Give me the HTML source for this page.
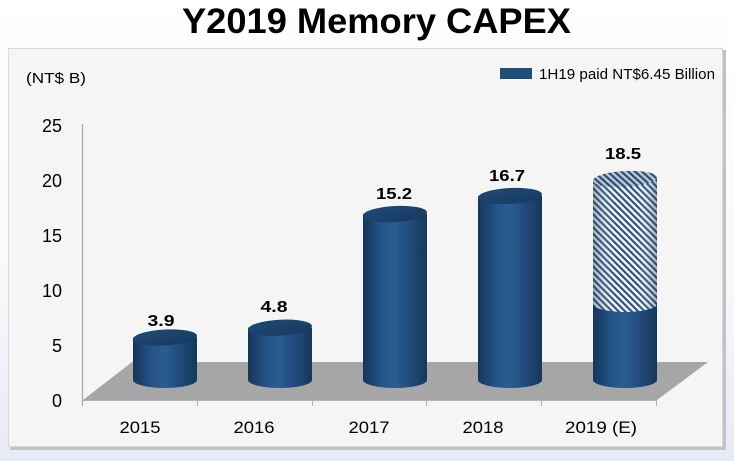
<!DOCTYPE html>
<html><head><meta charset="utf-8"><style>
html,body{margin:0;padding:0;width:734px;height:461px;overflow:hidden;}
svg{display:block;}
text{font-family:"Liberation Sans",Arial,sans-serif;}
</style></head><body>
<svg width="734" height="461" viewBox="0 0 734 461" xmlns="http://www.w3.org/2000/svg">
<defs>
<linearGradient id="bg" x1="0" y1="0" x2="0" y2="1">
<stop offset="0" stop-color="#ffffff"/><stop offset="0.6" stop-color="#f8f9fc"/><stop offset="1" stop-color="#e7eaf5"/>
</linearGradient>
<linearGradient id="body" x1="0" y1="0" x2="1" y2="0">
<stop offset="0" stop-color="#15365a"/><stop offset="0.3" stop-color="#25548a"/><stop offset="0.5" stop-color="#2a5c92"/><stop offset="0.75" stop-color="#21497a"/><stop offset="1" stop-color="#163759"/>
</linearGradient>
<linearGradient id="top" x1="0" y1="0" x2="1" y2="1">
<stop offset="0" stop-color="#1f4a76"/><stop offset="1" stop-color="#163a60"/>
</linearGradient>
<linearGradient id="shade" x1="0" y1="0" x2="1" y2="0">
<stop offset="0" stop-color="#0c2440" stop-opacity="0.35"/><stop offset="0.35" stop-color="#ffffff" stop-opacity="0"/><stop offset="0.7" stop-color="#ffffff" stop-opacity="0"/><stop offset="1" stop-color="#0c2440" stop-opacity="0.35"/>
</linearGradient>
<pattern id="hatch" width="4.6" height="4.6" patternUnits="userSpaceOnUse" patternTransform="rotate(-45)">
<rect width="4.6" height="4.6" fill="#eef3f8"/><rect width="2.1" height="4.6" fill="#2b4e77"/>
</pattern>
</defs>
<rect x="0" y="0" width="734" height="461" fill="url(#bg)"/>
<!-- panel -->
<rect x="10" y="50" width="716" height="400" fill="#c2c2c2"/>
<rect x="8.5" y="48.5" width="714" height="398" fill="#f5f5f5" stroke="#d8d8d8" stroke-width="1"/>
<!-- title -->
<text x="182" y="33" font-size="35" font-weight="bold" fill="#000" textLength="389" lengthAdjust="spacingAndGlyphs">Y2019 Memory CAPEX</text>
<!-- unit -->
<text x="26" y="83" font-size="15" fill="#000" textLength="60" lengthAdjust="spacingAndGlyphs">(NT$ B)</text>
<!-- legend -->
<rect x="500" y="68" width="32" height="11" fill="#1f4e79"/>
<text x="539" y="79" font-size="15" fill="#000" textLength="176" lengthAdjust="spacingAndGlyphs">1H19 paid NT$6.45 Billion</text>
<!-- y labels -->
<g font-size="18" fill="#000" text-anchor="end">
<text x="62" y="132">25</text>
<text x="62" y="187">20</text>
<text x="62" y="242">15</text>
<text x="62" y="297">10</text>
<text x="62" y="352">5</text>
<text x="62" y="407">0</text>
</g>
<!-- floor -->
<polygon points="83,400 657,400 708,362 132,362" fill="#a6a6a6"/>
<line x1="82.5" y1="124" x2="82.5" y2="406" stroke="#a8a8a8" stroke-width="1.2"/>
<line x1="83" y1="400.5" x2="657" y2="400.5" stroke="#b5b5b5" stroke-width="1"/>
<g stroke="#b0b0b0" stroke-width="1">
<line x1="197.5" y1="400" x2="197.5" y2="406"/>
<line x1="312.5" y1="400" x2="312.5" y2="406"/>
<line x1="426.5" y1="400" x2="426.5" y2="406"/>
<line x1="541.5" y1="400" x2="541.5" y2="406"/>
<line x1="656.5" y1="400" x2="656.5" y2="406"/>
</g>
<!-- bars -->
<g>
<path d="M133,337.5 L133,380 A32,8 0 0 0 197,380 L197,337.5 Z" fill="url(#body)"/>
<ellipse cx="165" cy="337.5" rx="32" ry="8" fill="url(#top)" transform="rotate(-3 165 337.5)"/>
<path d="M248,327.7 L248,380 A32,8 0 0 0 312,380 L312,327.7 Z" fill="url(#body)"/>
<ellipse cx="280" cy="327.7" rx="32" ry="8" fill="url(#top)" transform="rotate(-3 280 327.7)"/>
<path d="M363,214 L363,380 A32,8 0 0 0 427,380 L427,214 Z" fill="url(#body)"/>
<ellipse cx="395" cy="214" rx="32" ry="8" fill="url(#top)" transform="rotate(-3 395 214)"/>
<path d="M478,196 L478,380 A32,8 0 0 0 542,380 L542,196 Z" fill="url(#body)"/>
<ellipse cx="510" cy="196" rx="32" ry="8" fill="url(#top)" transform="rotate(-3 510 196)"/>
<!-- 2019 -->
<path d="M593,304 L593,380 A32,8 0 0 0 657,380 L657,304 Z" fill="url(#body)"/>
<path d="M593,179 L593,304 A32,8 0 0 0 657,304 L657,179 Z" fill="url(#hatch)"/>
<path d="M593,179 L593,304 A32,8 0 0 0 657,304 L657,179 Z" fill="url(#shade)"/>
<ellipse cx="625" cy="179" rx="32" ry="8" fill="url(#hatch)" transform="rotate(-3 625 179)"/>
<ellipse cx="625" cy="179" rx="32" ry="8" fill="#1c3f66" fill-opacity="0.25" transform="rotate(-3 625 179)"/>
</g>
<!-- data labels -->
<g font-size="16" font-weight="bold" fill="#000" text-anchor="middle">
<text x="161" y="326" textLength="27" lengthAdjust="spacingAndGlyphs">3.9</text>
<text x="274" y="312" textLength="27" lengthAdjust="spacingAndGlyphs">4.8</text>
<text x="394" y="199" textLength="36" lengthAdjust="spacingAndGlyphs">15.2</text>
<text x="507" y="181" textLength="36" lengthAdjust="spacingAndGlyphs">16.7</text>
<text x="623" y="159" textLength="36" lengthAdjust="spacingAndGlyphs">18.5</text>
</g>
<!-- x labels -->
<g font-size="17" fill="#000" text-anchor="middle">
<text x="140" y="433" textLength="41" lengthAdjust="spacingAndGlyphs">2015</text>
<text x="254" y="433" textLength="41" lengthAdjust="spacingAndGlyphs">2016</text>
<text x="369" y="433" textLength="41" lengthAdjust="spacingAndGlyphs">2017</text>
<text x="483" y="433" textLength="41" lengthAdjust="spacingAndGlyphs">2018</text>
<text x="601" y="433" textLength="72" lengthAdjust="spacingAndGlyphs">2019 (E)</text>
</g>
</svg>
</body></html>
